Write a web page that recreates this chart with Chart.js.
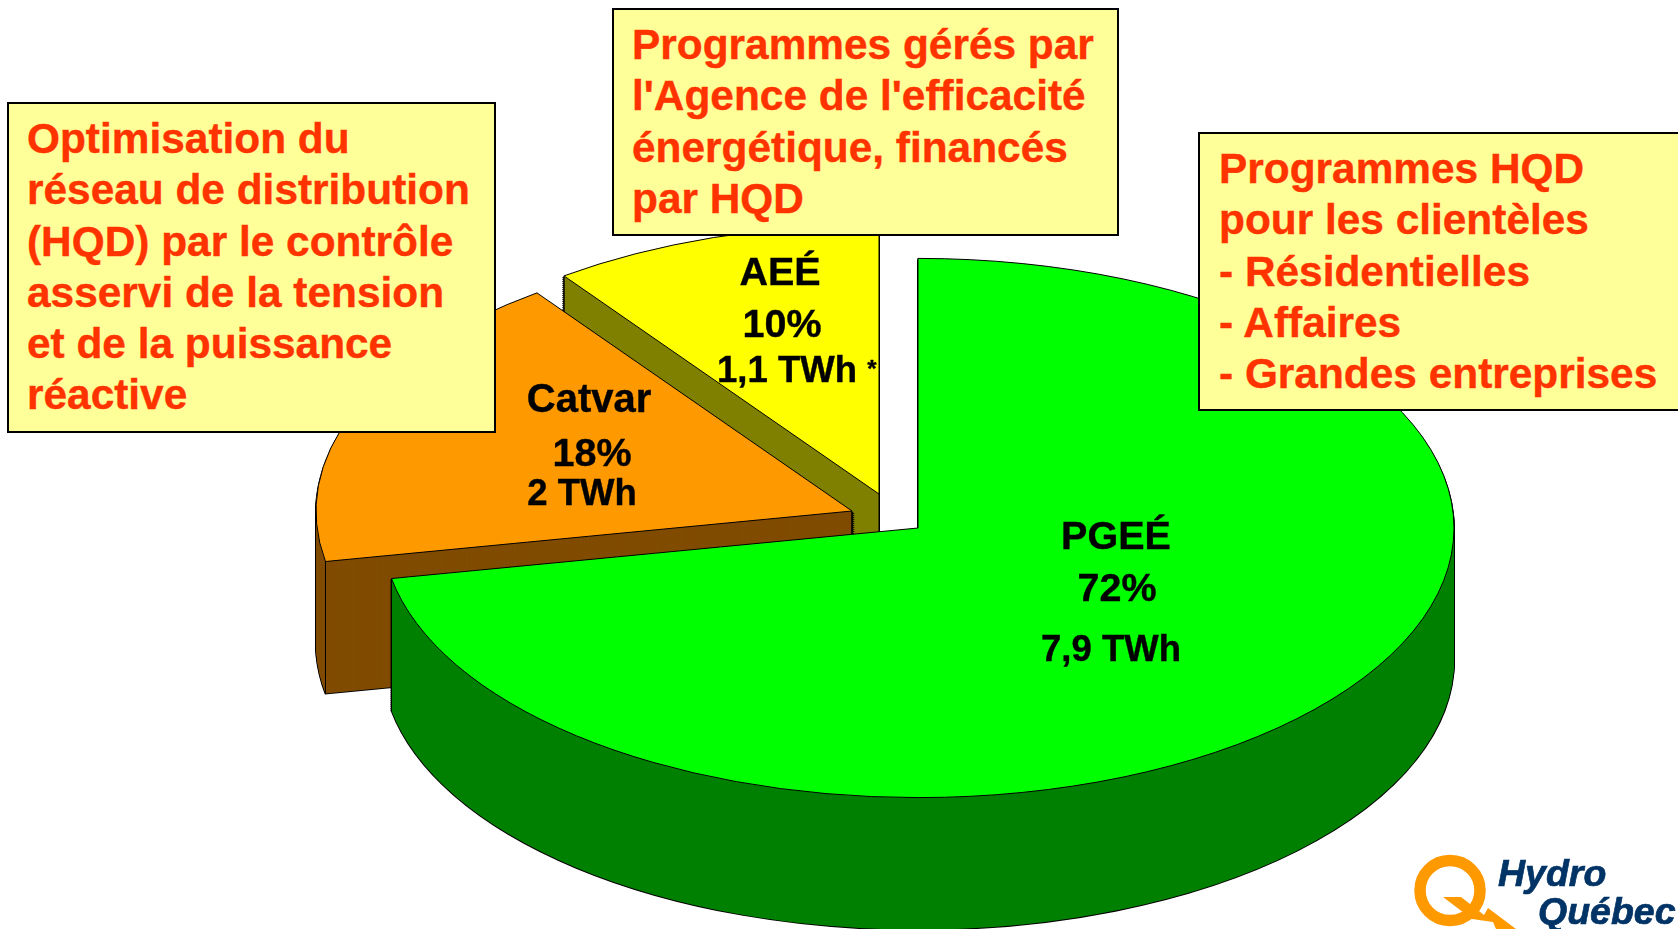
<!DOCTYPE html>
<html>
<head>
    <meta charset="utf-8">
    <style>
        html, body {
            margin: 0;
            padding: 0;
            background: #fff;
            overflow: hidden;
            width: 1678px;
            height: 929px;
        }
        #wrap {
            position: absolute;
            left: 0;
            top: 0;
            width: 1678px;
            height: 929px;
        }
        .box {
            position: absolute;
            box-sizing: border-box;
            background: #ffff99;
            border: 2px solid #000;
            color: #ff3300;
            font: bold 42.4px/51.3px "Liberation Sans", Arial, sans-serif;
            -webkit-text-stroke: 0.4px #ff3300;
            white-space: pre;
        }
        .lbl {
            position: absolute;
            color: #000;
            font-family: "Liberation Sans", Arial, sans-serif;
            font-weight: bold;
            line-height: 1.117;
            -webkit-text-stroke: 0.4px #000;
            white-space: pre;
            transform: translateX(-50%);
        }
        #logo {
            position: absolute;
            left: 0;
            top: 0;
        }
        #logo text {
            stroke: #003366;
            stroke-width: 0.7px;
        }
    </style>
    <script src="https://cdn.jsdelivr.net/npm/chart.js"></script>
</head>
<body>
<div id="wrap">
    <canvas id="myChart" width="1678" height="929"></canvas>
    <svg id="logo" width="1678" height="929">
        <circle cx="1450" cy="890.5" r="30" fill="none" stroke="#ff9900" stroke-width="11.5"></circle>
        <polygon points="1443,897 1461,897 1484,915 1488,908 1516,929 1496,929 1493,922 1472,919" fill="#ff9900"></polygon>
        <text x="1498" y="886" font-family="Liberation Sans" font-weight="bold" font-style="italic" font-size="37.5" fill="#003366">Hydro</text>
        <text x="1538" y="924" font-family="Liberation Sans" font-weight="bold" font-style="italic" font-size="37.5" fill="#003366">Québec</text>
    </svg>
</div>
<script>
    // chart data
    var categories = ['PGEÉ', 'Catvar', 'AEÉ'];
    var shares = [72, 18, 10];
    var energy = ['7,9 TWh', '2 TWh', '1,1 TWh'];

    var boxLeft = ['Optimisation du', 'réseau de distribution', '(HQD) par le contrôle', 'asservi de la tension', 'et de la puissance', 'réactive'];
    var boxTop = ['Programmes gérés par', "l'Agence de l'efficacité", 'énergétique, financés', 'par HQD'];
    var boxRight = ['Programmes HQD', 'pour les clientèles', '- Résidentielles', '- Affaires', '- Grandes entreprises'];

    // colours
    var topColors = ['#00ff00', '#ff9900', '#ffff00'];
    var wallColors = ['#008000', '#804c00', '#808000'];

    // fake 3d: where each slice apex sits on the page, squash and wall height
    var apex = [[918, 528], [852, 511], [879, 494]];
    var pieRadius = 536;
    var squash = 0.503;
    var depth = 132;

    function sectorPath(ctx, arc, i, dy) {
        var cx = apex[i][0], cy = apex[i][1] + dy;
        ctx.beginPath();
        ctx.moveTo(cx, cy);
        ctx.ellipse(cx, cy, arc.outerRadius, arc.outerRadius * squash, 0, arc.startAngle, arc.endAngle);
        ctx.closePath();
    }

    var pie3d = {
        id: 'pie3d',
        beforeDatasetsDraw: function(chart) {
            var ctx = chart.ctx;
            var arcs = chart.getDatasetMeta(0).data;
            // back slices first so the green one ends up in front
            for (var i = arcs.length - 1; i >= 0; i--) {
                var arc = arcs[i];
                var cx = apex[i][0], cy = apex[i][1];
                var r = arc.outerRadius;
                var d;

                // walls: black silhouette, then fill on top of it
                ctx.lineWidth = 2;
                ctx.strokeStyle = '#000';
                for (d = depth; d > 0; d -= 2) {
                    sectorPath(ctx, arc, i, d);
                    ctx.stroke();
                }
                ctx.fillStyle = wallColors[i];
                for (d = depth; d > 0; d--) {
                    sectorPath(ctx, arc, i, d);
                    ctx.fill();
                }

                // vertical edges of the cut faces
                ctx.lineWidth = 1;
                ctx.beginPath();
                ctx.moveTo(cx, cy);
                ctx.lineTo(cx, cy + depth);
                [arc.startAngle, arc.endAngle].forEach(function(a) {
                    var px = cx + Math.cos(a) * r, py = cy + Math.sin(a) * r * squash;
                    ctx.moveTo(px, py);
                    ctx.lineTo(px, py + depth);
                });
                ctx.stroke();

                // top face is the library's own arc, squashed
                ctx.save();
                ctx.translate(cx, cy);
                ctx.scale(1, squash);
                ctx.translate(-arc.x, -arc.y);
                arc.draw(ctx);
                ctx.restore();

                sectorPath(ctx, arc, i, 0);
                ctx.lineWidth = 1;
                ctx.strokeStyle = '#000';
                ctx.stroke();
            }
            return false;
        }
    };

    var myChart = new Chart(document.getElementById('myChart').getContext('2d'), {
        type: 'pie',
        data: {
            labels: categories,
            datasets: [{
                data: shares,
                backgroundColor: topColors,
                borderWidth: 0
            }]
        },
        options: {
            responsive: false,
            animation: false,
            radius: pieRadius,
            plugins: {
                legend: { display: false },
                tooltip: { enabled: false }
            }
        },
        plugins: [pie3d]
    });

    // yellow callouts
    function addBox(lines, left, top, width, height, padLeft, padTop) {
        var el = document.createElement('div');
        el.className = 'box';
        el.style.left = left + 'px';
        el.style.top = top + 'px';
        el.style.width = width + 'px';
        el.style.height = height + 'px';
        el.style.padding = padTop + 'px 0 0 ' + padLeft + 'px';
        el.textContent = lines.join('\n');
        document.getElementById('wrap').appendChild(el);
    }
    addBox(boxLeft, 7, 102, 489, 331, 18, 9);
    addBox(boxTop, 612, 8, 507, 228, 18, 9);
    addBox(boxRight, 1198, 132, 500, 279, 19, 9);

    // text on the slices, x is the centre and y the baseline
    function addLabel(text, x, y, size) {
        var el = document.createElement('div');
        el.className = 'lbl';
        el.style.left = x + 'px';
        el.style.top = (y - 0.905 * size) + 'px';
        el.style.fontSize = size + 'px';
        el.textContent = text;
        document.getElementById('wrap').appendChild(el);
    }
    addLabel(categories[0], 1116, 549, 39.5);
    addLabel(shares[0] + '%', 1117, 601, 39.5);
    addLabel(energy[0], 1111, 662, 36.5);
    addLabel(categories[1], 589, 412, 40);
    addLabel(shares[1] + '%', 592, 466, 39.5);
    addLabel(energy[1], 582, 506, 36.5);
    addLabel(categories[2], 780, 285, 39.5);
    addLabel(shares[2] + '%', 782, 337, 39.5);
    addLabel(energy[2], 787, 383, 36.5);
    addLabel('*', 872, 378, 24);
</script>
</body>
</html>
